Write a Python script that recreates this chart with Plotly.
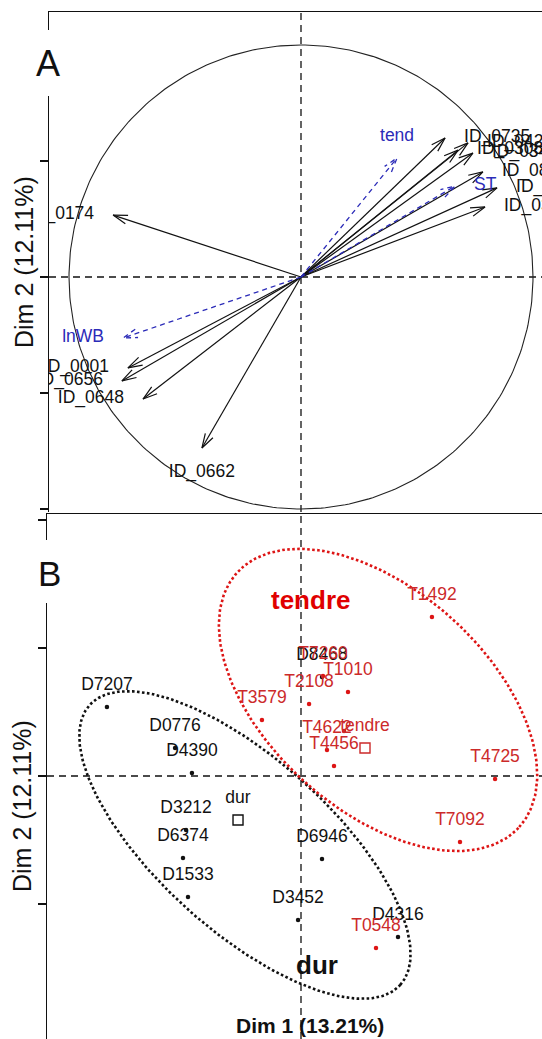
import numpy as np
import plotly.graph_objects as go

W, H = 542, 1039
FONT = "Liberation Sans, Arial, sans-serif"
BLUE = "#2b2bb8"
RED_MARK = "#dd1515"
RED_TEXT = "#cc2a2a"

# ---------------- Panel A : variables factor map ----------------
var_names = ["ID_0174", "ID_0001", "ID_0656", "ID_0648", "ID_0662",
             "ID_0735", "ID_0423", "ID_0308", "ID_0345", "ID_0821", "ID_0092", "ID_0317"]
var_dim1 = [-0.810, -0.746, -0.772, -0.681, -0.427,
            0.621, 0.720, 0.677, 0.741, 0.784, 0.845, 0.793]
var_dim2 = [0.267, -0.392, -0.448, -0.526, -0.737,
            0.599, 0.578, 0.547, 0.534, 0.453, 0.384, 0.302]

sup_names = ["tend", "ST", "lnWB"]
sup_dim1 = [0.414, 0.664, -0.767]
sup_dim2 = [0.513, 0.392, -0.263]

# ---------------- Panel B : individuals factor map ----------------
dur_names = ["D7207", "D0776", "D4390", "D3212", "D6374", "D1533",
             "D6946", "D3452", "D4316", "D8468"]
dur_dim1 = [-1.516, -0.984, -0.852, -0.898, -0.922, -0.883, 0.164, -0.023, 0.758, 0.164]
dur_dim2 = [0.539, 0.219, 0.023, -0.422, -0.641, -0.945, -0.648, -1.125, -1.258, 0.773]

tendre_names = ["T1492", "T7260", "T1010", "T2108", "T3579", "", "T4622", "T4456",
                "T4725", "T7092", "T0548"]
tendre_dim1 = [1.023, 0.172, 0.367, 0.063, -0.305, 0.336, 0.203, 0.258, 1.516, 1.242, 0.586]
tendre_dim2 = [1.242, 0.781, 0.656, 0.563, 0.438, 0.352, 0.203, 0.078, -0.023, -0.516, -1.344]

group_names = ["dur", "tendre"]
group_dim1 = [-0.492, 0.500]
group_dim2 = [-0.344, 0.219]

# confidence ellipses (center, semi-axes, rotation in degrees)
ell_cx = [-0.438, 0.602]
ell_cy = [-0.539, 0.594]
ell_a = [1.633, 1.484]
ell_b = [0.672, 0.859]
ell_angle = [-42, -42]
ell_colors = ["#111111", RED_MARK]

# ---------------- layout helpers (pixel -> paper) ----------------
def px(x):
    return x / W

def py(y):
    return 1 - y / H

SA = 232.0   # pixels per unit, panel A
SB = 128.0   # pixels per unit, panel B

fig = go.Figure()

# correlation circle
t = np.linspace(0, 2 * np.pi, 361)
fig.add_trace(go.Scatter(x=np.cos(t), y=np.sin(t), mode="lines",
                         line=dict(color="#222222", width=1.1),
                         hoverinfo="skip", xaxis="x", yaxis="y"))


def arrows(xs, ys, head_px=15.0, half_deg=17.0):
    X, Y = [], []
    L = head_px / SA
    for x, y in zip(xs, ys):
        ang = np.arctan2(y, x)
        X += [0, x, None]
        Y += [0, y, None]
        a1 = ang + np.pi + np.deg2rad(half_deg)
        a2 = ang + np.pi - np.deg2rad(half_deg)
        X += [x + L * np.cos(a1), x, x + L * np.cos(a2), None]
        Y += [y + L * np.sin(a1), y, y + L * np.sin(a2), None]
    return X, Y


ax_, ay_ = arrows(var_dim1, var_dim2)
fig.add_trace(go.Scatter(x=ax_, y=ay_, mode="lines",
                         line=dict(color="#111111", width=1.2),
                         hoverinfo="skip", xaxis="x", yaxis="y"))
bx_, by_ = arrows(sup_dim1, sup_dim2)
fig.add_trace(go.Scatter(x=bx_, y=by_, mode="lines",
                         line=dict(color=BLUE, width=1.3, dash="5px,4px"),
                         hoverinfo="skip", xaxis="x", yaxis="y"))


def label_positions(xs, ys, gh=19.0, gv=13.0, gb=16.0):
    lx, ly, tp = [], [], []
    for x, y in zip(xs, ys):
        if abs(x) >= abs(y):
            if x > 0:
                lx.append(x + gh / SA); ly.append(y); tp.append("middle right")
            else:
                lx.append(x - gh / SA); ly.append(y); tp.append("middle left")
        else:
            if y > 0:
                lx.append(x); ly.append(y + gv / SA); tp.append("top center")
            else:
                lx.append(x); ly.append(y - gb / SA); tp.append("bottom center")
    return lx, ly, tp


lx, ly, tp = label_positions(var_dim1, var_dim2)
fig.add_trace(go.Scatter(x=lx, y=ly, mode="text", text=var_names, textposition=tp,
                         textfont=dict(family=FONT, size=17.5, color="#111111"),
                         cliponaxis=True, hoverinfo="skip", xaxis="x", yaxis="y"))
lx, ly, tp = label_positions(sup_dim1, sup_dim2)
fig.add_trace(go.Scatter(x=lx, y=ly, mode="text", text=sup_names, textposition=tp,
                         textfont=dict(family=FONT, size=17.5, color=BLUE),
                         cliponaxis=True, hoverinfo="skip", xaxis="x", yaxis="y"))

# ---------------- Panel B ----------------
tt = np.linspace(0, 2 * np.pi, 241)
for cx, cy, a, b, ang, col in zip(ell_cx, ell_cy, ell_a, ell_b, ell_angle, ell_colors):
    th = np.deg2rad(ang)
    ex = cx + a * np.cos(tt) * np.cos(th) - b * np.sin(tt) * np.sin(th)
    ey = cy + a * np.cos(tt) * np.sin(th) + b * np.sin(tt) * np.cos(th)
    fig.add_trace(go.Scatter(x=ex, y=ey, mode="lines",
                             line=dict(color=col, width=2.6, dash="2.6px,2.4px"),
                             hoverinfo="skip", xaxis="x2", yaxis="y2"))

off = 21.0 / SB
fig.add_trace(go.Scatter(x=dur_dim1, y=dur_dim2, mode="markers",
                         marker=dict(color="#111111", size=4.5),
                         hoverinfo="skip", xaxis="x2", yaxis="y2"))
fig.add_trace(go.Scatter(x=dur_dim1, y=[v + off for v in dur_dim2], mode="text",
                         text=dur_names, textposition="middle center",
                         textfont=dict(family=FONT, size=17.5, color="#111111"),
                         hoverinfo="skip", xaxis="x2", yaxis="y2"))
fig.add_trace(go.Scatter(x=tendre_dim1, y=tendre_dim2, mode="markers",
                         marker=dict(color=RED_MARK, size=4.5),
                         hoverinfo="skip", xaxis="x2", yaxis="y2"))
fig.add_trace(go.Scatter(x=tendre_dim1, y=[v + off for v in tendre_dim2], mode="text",
                         text=tendre_names, textposition="middle center",
                         textfont=dict(family=FONT, size=17.5, color=RED_TEXT),
                         hoverinfo="skip", xaxis="x2", yaxis="y2"))
gcol = ["#111111", RED_TEXT]
fig.add_trace(go.Scatter(x=group_dim1, y=group_dim2, mode="markers",
                         marker=dict(symbol="square-open", size=10,
                                     color=gcol, line=dict(width=1.4, color=gcol)),
                         hoverinfo="skip", xaxis="x2", yaxis="y2"))
fig.add_trace(go.Scatter(x=group_dim1, y=[v + off for v in group_dim2], mode="text",
                         text=group_names, textposition="middle center",
                         textfont=dict(family=FONT, size=17.5, color=gcol),
                         hoverinfo="skip", xaxis="x2", yaxis="y2"))

# ---------------- axes ----------------
axis_common = dict(showgrid=False, zeroline=False, showticklabels=False,
                   fixedrange=True)
fig.update_layout(
    width=W, height=H, margin=dict(l=0, r=0, t=0, b=0),
    paper_bgcolor="white", plot_bgcolor="white", showlegend=False,
    xaxis=dict(domain=[px(49), 1], range=[(49 - 301) / SA, (542 - 301) / SA],
               side="top", showline=True, linecolor="#111111", linewidth=1.3,
               ticks="", anchor="y", **axis_common),
    yaxis=dict(domain=[py(512), py(12)], range=[(277 - 512) / SA, (277 - 12) / SA],
               showline=True, linecolor="#111111", linewidth=1.3,
               ticks="outside", ticklen=8, tickwidth=1.3, tickcolor="#111111",
               tickvals=[-1, -0.5, 0, 0.5, 1], anchor="x", **axis_common),
    xaxis2=dict(domain=[px(47), 1], range=[(47 - 301) / SB, (542 - 301) / SB],
                side="top", showline=True, linecolor="#111111", linewidth=1.3,
                ticks="", anchor="y2", **axis_common),
    yaxis2=dict(domain=[0, py(514)], range=[(776 - 1039) / SB, (776 - 514) / SB],
                showline=True, linecolor="#111111", linewidth=1.3,
                ticks="outside", ticklen=8, tickwidth=1.3, tickcolor="#111111",
                tickvals=[-1, 0, 1, 2], anchor="x2", **axis_common),
)

dash = dict(color="#111111", width=1.3, dash="7px,5px")
shapes = [
    dict(type="line", xref="x domain", yref="y", x0=0, x1=1, y0=0, y1=0, line=dash, layer="below"),
    dict(type="line", xref="x", yref="y domain", x0=0, x1=0, y0=0, y1=1, line=dash, layer="below"),
    dict(type="line", xref="x2 domain", yref="y2", x0=0, x1=1, y0=0, y1=0, line=dash, layer="below"),
    dict(type="line", xref="x2", yref="y2 domain", x0=0, x1=0, y0=0, y1=1, line=dash, layer="below"),
    # gaps in the left axis lines behind the panel letters
    dict(type="rect", xref="paper", yref="paper", x0=px(38), x1=px(58), y0=py(96), y1=py(30),
         fillcolor="white", line=dict(width=0), layer="above"),
    dict(type="rect", xref="paper", yref="paper", x0=px(36), x1=px(56), y0=py(603), y1=py(540),
         fillcolor="white", line=dict(width=0), layer="above"),
]
fig.update_layout(shapes=shapes)

ann = [
    dict(text="A", x=px(47.5), y=py(63), xref="paper", yref="paper", showarrow=False,
         font=dict(family=FONT, size=36, color="#111111"), xanchor="center", yanchor="middle"),
    dict(text="B", x=px(49.5), y=py(573), xref="paper", yref="paper", showarrow=False,
         font=dict(family=FONT, size=35, color="#111111"), xanchor="center", yanchor="middle"),
    dict(text="Dim 2 (12.11%)", x=px(24), y=py(262), xref="paper", yref="paper", showarrow=False,
         textangle=-90, font=dict(family=FONT, size=25, color="#111111"),
         xanchor="center", yanchor="middle"),
    dict(text="Dim 2 (12.11%)", x=px(22), y=py(806), xref="paper", yref="paper", showarrow=False,
         textangle=-90, font=dict(family=FONT, size=25, color="#111111"),
         xanchor="center", yanchor="middle"),
    dict(text="<b>Dim 1 (13.21%)</b>", x=px(310), y=py(1025), xref="paper", yref="paper",
         showarrow=False, font=dict(family=FONT, size=21, color="#111111"),
         xanchor="center", yanchor="middle"),
    dict(text="<b>tendre</b>", x=(310 - 301) / SB, y=(776 - 600) / SB, xref="x2", yref="y2",
         showarrow=False, font=dict(family=FONT, size=26, color="#e00000"),
         xanchor="center", yanchor="middle"),
    dict(text="<b>dur</b>", x=(317 - 301) / SB, y=(776 - 965) / SB, xref="x2", yref="y2",
         showarrow=False, font=dict(family=FONT, size=26, color="#111111"),
         xanchor="center", yanchor="middle"),
]
fig.update_layout(annotations=ann)

fig.write_html("out.html",
               config={"displayModeBar": False, "staticPlot": True},
               post_script="document.body.style.margin='0';document.body.style.overflow='hidden';")
